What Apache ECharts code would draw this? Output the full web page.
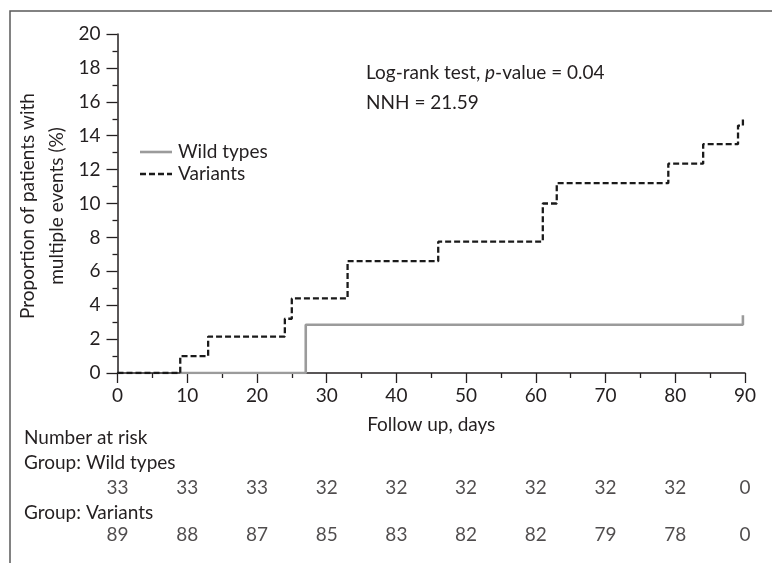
<!DOCTYPE html>
<html>
<head>
<meta charset="utf-8">
<script src="https://cdn.jsdelivr.net/npm/echarts@6/dist/echarts.min.js"></script>
<style>
html,body{margin:0;padding:0;background:#fff;}
#chart{width:772px;height:563px;}
</style>
</head>
<body>
<div id="chart"></div>
<script>
// ---- data ----
const xTicks = [0, 10, 20, 30, 40, 50, 60, 70, 80, 90];
const wildTimes = [9, 27, 89.7];
const wildValues = [0, 2.85, 3.4];
const variantTimes = [0, 9, 13, 24, 25, 33, 46, 61, 63, 79, 84, 89, 89.7];
const variantValues = [0, 1.0, 2.15, 3.2, 4.4, 6.6, 7.75, 10.0, 11.2, 12.35, 13.5, 14.6, 15.0];
const riskWild = [33, 33, 33, 32, 32, 32, 32, 32, 32, 0];
const riskVariants = [89, 88, 87, 85, 83, 82, 82, 79, 78, 0];
const seriesNames = ['Wild types', 'Variants'];

const FONT = 'Lato, "Open Sans", sans-serif';
const TXT = '#231f20';
const FS = 19;
const GREY = '#9b9b9b';
const BLACK = '#1a1a1a';

const gridL = 117.5, gridR = 27;

function zip(a, b) { return a.map((v, i) => [v, b[i]]); }

const chart = echarts.init(document.getElementById('chart'), null, {renderer: 'canvas'});

const hiddenX = (gi) => ({gridIndex: gi, type: 'value', min: 0, max: 90, show: false});
const hiddenY = (gi) => ({gridIndex: gi, type: 'value', min: 0, max: 1, show: false});

const riskSeries = (gi, arr) => ({
  type: 'scatter', xAxisIndex: gi, yAxisIndex: gi,
  symbolSize: 1, itemStyle: {color: 'rgba(0,0,0,0)'},
  silent: true,
  data: xTicks.map((t, i) => [t, 0.5, arr[i]]),
  label: {show: true, position: 'inside', formatter: p => String(p.data[2]),
          color: TXT, fontSize: FS, fontFamily: FONT}
});

function txt(x, y, text, extra, rot) {
  return {type: 'text', silent: true, x: x, y: y, rotation: rot || 0,
    style: Object.assign({text: text, fontSize: FS, fill: TXT, fontFamily: FONT, verticalAlign: 'middle'}, extra || {})};
}

chart.setOption({
  animation: false,
  backgroundColor: '#fff',
  textStyle: {fontFamily: FONT, color: TXT},
  grid: [
    {left: gridL, right: gridR, top: 34, bottom: 190},
    {left: gridL, right: gridR, top: 483, height: 10},
    {left: gridL, right: gridR, top: 530, height: 10}
  ],
  xAxis: [
    {
      gridIndex: 0, type: 'value', min: 0, max: 90, interval: 10,
      name: 'Follow up, days', nameLocation: 'middle', nameGap: 42,
      nameTextStyle: {fontSize: FS, color: TXT, fontFamily: FONT},
      axisLine: {show: true, onZero: false, lineStyle: {color: TXT, width: 1.5}},
      axisTick: {show: true, length: 10, lineStyle: {color: TXT, width: 1.3}},
      minorTick: {show: true, splitNumber: 2, length: 5, lineStyle: {color: TXT, width: 1.3}},
      axisLabel: {margin: 13, fontSize: FS, color: TXT, fontFamily: FONT},
      splitLine: {show: false}
    },
    hiddenX(1), hiddenX(2)
  ],
  yAxis: [
    {
      gridIndex: 0, type: 'value', min: 0, max: 20, interval: 2,
      axisLine: {show: true, onZero: false, lineStyle: {color: TXT, width: 1.5}},
      axisTick: {show: true, length: 11, lineStyle: {color: TXT, width: 1.3}},
      minorTick: {show: true, splitNumber: 2, length: 5, lineStyle: {color: TXT, width: 1.3}},
      axisLabel: {margin: 17, fontSize: FS, color: TXT, fontFamily: FONT},
      splitLine: {show: false}
    },
    hiddenY(1), hiddenY(2)
  ],
  series: [
    {
      name: seriesNames[0], type: 'line', step: 'end', symbol: 'none',
      xAxisIndex: 0, yAxisIndex: 0, z: 3,
      lineStyle: {color: GREY, width: 2.6},
      data: zip(wildTimes, wildValues)
    },
    {
      name: seriesNames[1], type: 'line', step: 'end', symbol: 'none',
      xAxisIndex: 0, yAxisIndex: 0, z: 4,
      lineStyle: {color: BLACK, width: 2.3, type: [6, 3]},
      data: zip(variantTimes, variantValues)
    },
    riskSeries(1, riskWild),
    riskSeries(2, riskVariants)
  ],
  graphic: [
    {type: 'rect', silent: true, z: 0,
     shape: {x: 10, y: 11, width: 900, height: 700},
     style: {fill: 'none', stroke: '#5a5a5a', lineWidth: 1.5}},
    // legend
    {type: 'line', silent: true, shape: {x1: 140, y1: 152, x2: 172, y2: 152},
     style: {stroke: GREY, lineWidth: 2.6}},
    {type: 'line', silent: true, shape: {x1: 140, y1: 174, x2: 172, y2: 174},
     style: {stroke: BLACK, lineWidth: 2.3, lineDash: [6, 3]}},
    txt(178, 152, seriesNames[0]),
    txt(178, 174, seriesNames[1]),
    txt(42, 206, 'Proportion of patients with\nmultiple events (%)',
        {lineHeight: 29, align: 'center'}, Math.PI / 2),
    txt(366, 73, 'Log-rank test, {i|p}-value = 0.04',
        {rich: {i: {fontStyle: 'italic', fontSize: FS, fontFamily: FONT, fill: TXT}}}),
    txt(366, 103, 'NNH = 21.59'),
    txt(24, 438, 'Number at risk'),
    txt(24, 463, 'Group: Wild types'),
    txt(24, 513, 'Group: Variants')
  ]
});
</script>
</body>
</html>
